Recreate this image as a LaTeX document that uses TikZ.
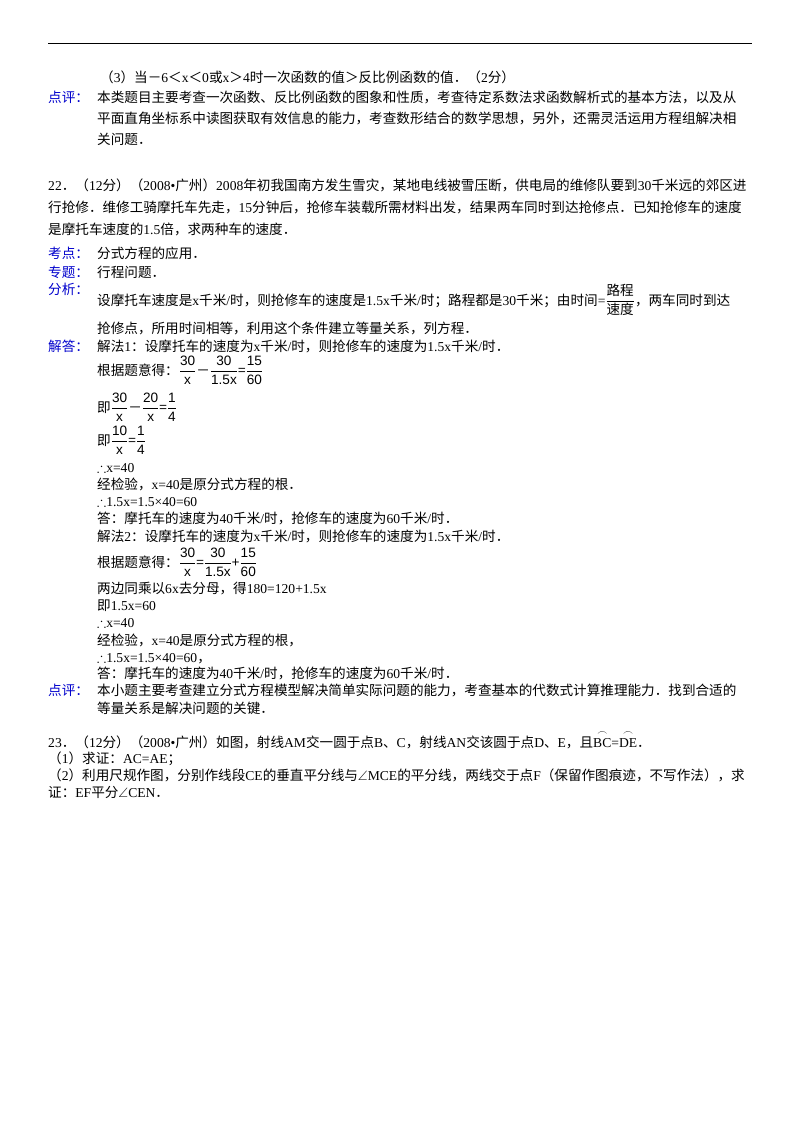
\documentclass[tikz,border=0pt]{standalone}
\usepackage{amsmath,amssymb}
\usepackage{fontspec}
\setmainfont{Liberation Serif}
\newfontfamily\cjk{Noto Sans CJK SC}
\newfontfamily\lat{Liberation Serif}
\newfontfamily\fsans{Liberation Sans}
\XeTeXinterchartokenstate=1
\newXeTeXintercharclass\CJKcls
\count255="4E00 \loop \XeTeXcharclass\count255=\CJKcls \ifnum\count255<"9FFF \advance\count255 1 \repeat
\count255="3000 \loop \XeTeXcharclass\count255=\CJKcls \ifnum\count255<"303F \advance\count255 1 \repeat
\count255="FF00 \loop \XeTeXcharclass\count255=\CJKcls \ifnum\count255<"FFEF \advance\count255 1 \repeat
\XeTeXinterchartoks 0 \CJKcls = {\cjk}
\XeTeXinterchartoks 4095 \CJKcls = {\cjk}
\XeTeXinterchartoks \CJKcls 0 = {\lat}
\newcommand\fr[2]{$\genfrac{}{}{0.5pt}{0}{\mbox{\fsans #1}}{\mbox{\fsans #2}}$}
\newcommand\ang{\lat$\angle$}
\newcommand\thf{\lat$\therefore$}
\newcommand\arcs[1]{\raisebox{0pt}[0pt][0pt]{$\overset{\frown}{\mbox{#1}}$}}
\begin{document}
\begin{tikzpicture}[x=1pt,y=-1pt,
  t/.style={anchor=base west,inner sep=0,font=\fontsize{13.6}{16}\selectfont},
  lab/.style={t,text=blue!80!black}]
\useasboundingbox (0,0) rectangle (800,1132);
\draw[line width=0.8pt] (48,43) -- (752,43);
\node[t] (a1) at (100,82) {（3）当－6＜x＜0或x＞4时一次函数的值＞反比例函数的值．（2分）};
\node[lab] (l1) at (48,102) {点评：};
\node[t] (a2) at (97,102) {本类题目主要考查一次函数、反比例函数的图象和性质，考查待定系数法求函数解析式的基本方法，以及从};
\node[t] (a3) at (97,123) {平面直角坐标系中读图获取有效信息的能力，考查数形结合的数学思想，另外，还需灵活运用方程组解决相};
\node[t] (a4) at (97,144) {关问题．};
\node[t] (b1) at (48,190) {22．（12分）（2008•广州）2008年初我国南方发生雪灾，某地电线被雪压断，供电局的维修队要到30千米远的郊区进};
\node[t] (b2) at (48,212) {行抢修．维修工骑摩托车先走，15分钟后，抢修车装载所需材料出发，结果两车同时到达抢修点．已知抢修车的速度};
\node[t] (b3) at (48,234) {是摩托车速度的1.5倍，求两种车的速度．};
\node[lab] (l2) at (48,258) {考点：};
\node[t] (c1) at (97,258) {分式方程的应用．};
\node[lab] (l3) at (48,277) {专题：};
\node[t] (c2) at (97,277) {行程问题．};
\node[lab] (l4) at (48,294) {分析：};
\node[t] (c3) at (97,305) {设摩托车速度是x千米/时，则抢修车的速度是1.5x千米/时；路程都是30千米；由时间=\fr{路程}{速度}，两车同时到达};
\node[t] (c4) at (97,333) {抢修点，所用时间相等，利用这个条件建立等量关系，列方程．};
\node[lab] (l5) at (48,351) {解答：};
\node[t] (d1) at (97,351) {解法1：设摩托车的速度为x千米/时，则抢修车的速度为1.5x千米/时．};
\node[t] (d2) at (97,375) {根据题意得：\fr{30}{x}－\fr{30}{1.5x}=\fr{15}{60}};
\node[t] (d3) at (97,412) {即\fr{30}{x}－\fr{20}{x}=\fr{1}{4}};
\node[t] (d4) at (97,445) {即\fr{10}{x}=\fr{1}{4}};
\node[t] (d5) at (97,472) {\thf x=40};
\node[t] (d6) at (97,489) {经检验，x=40是原分式方程的根．};
\node[t] (d7) at (97,506) {\thf 1.5x=1.5×40=60};
\node[t] (d8) at (97,523) {答：摩托车的速度为40千米/时，抢修车的速度为60千米/时．};
\node[t] (d9) at (97,541) {解法2：设摩托车的速度为x千米/时，则抢修车的速度为1.5x千米/时．};
\node[t] (d10) at (97,567) {根据题意得：\fr{30}{x}=\fr{30}{1.5x}+\fr{15}{60}};
\node[t] (d11) at (97,593) {两边同乘以6x去分母，得180=120+1.5x};
\node[t] (d12) at (97,610) {即1.5x=60};
\node[t] (d13) at (97,627) {\thf x=40};
\node[t] (d14) at (97,645) {经检验，x=40是原分式方程的根，};
\node[t] (d15) at (97,662) {\thf 1.5x=1.5×40=60，};
\node[t] (d16) at (97,678) {答：摩托车的速度为40千米/时，抢修车的速度为60千米/时．};
\node[lab] (l6) at (48,695) {点评：};
\node[t] (e1) at (97,695) {本小题主要考查建立分式方程模型解决简单实际问题的能力，考查基本的代数式计算推理能力．找到合适的};
\node[t] (e2) at (97,713) {等量关系是解决问题的关键．};
\node[t] (f1) at (48,747) {23．（12分）（2008•广州）如图，射线AM交一圆于点B、C，射线AN交该圆于点D、E，且\lat\arcs{BC}=\arcs{DE}．};
\node[t] (f2) at (48,763) {（1）求证：AC=AE；};
\node[t] (f3) at (48,780) {（2）利用尺规作图，分别作线段CE的垂直平分线与\ang MCE的平分线，两线交于点F（保留作图痕迹，不写作法），求};
\node[t] (f4) at (48,797) {证：EF平分\ang CEN．};
\end{tikzpicture}
\end{document}
